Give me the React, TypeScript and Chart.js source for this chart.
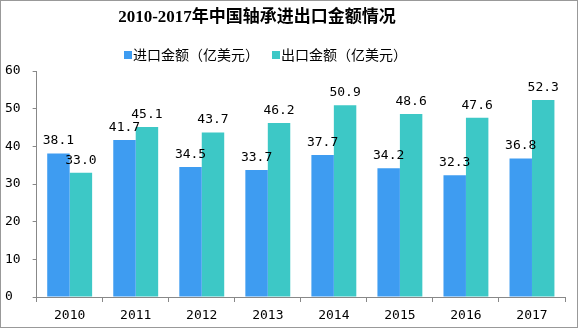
import React, { useEffect, useRef } from "react";
import { Chart, registerables } from "chart.js";

Chart.register(...registerables);

const categories = ["2010", "2011", "2012", "2013", "2014", "2015", "2016", "2017"];
const importValues = [38.1, 41.7, 34.5, 33.7, 37.7, 34.2, 32.3, 36.8];
const exportValues = [33.0, 45.1, 43.7, 46.2, 50.9, 48.6, 47.6, 52.3];
const seriesNames = ["进口金额（亿美元）", "出口金额（亿美元）"];
const titleText = "2010-2017年中国轴承进出口金额情况";

const BLUE = "#3e9cf1";
const TEAL = "#3dc8c6";
const MONO = "'DejaVu Sans Mono', 'Liberation Mono', monospace";
const CJK = "'Noto Sans CJK SC', sans-serif";

const labelPlugin = {
  id: "barLabels",
  afterDatasetsDraw(chart: any) {
    const ctx = chart.ctx;
    ctx.save();
    ctx.font = `13px ${MONO}`;
    ctx.fillStyle = "#000";
    ctx.textAlign = "center";
    ctx.textBaseline = "alphabetic";
    chart.data.datasets.forEach((ds: any, di: number) => {
      const meta = chart.getDatasetMeta(di);
      meta.data.forEach((bar: any, i: number) => {
        ctx.fillText(Number(ds.data[i]).toFixed(1), bar.x, bar.y - 9);
      });
    });
    ctx.restore();
  },
};

const headerPlugin = {
  id: "header",
  afterDraw(chart: any) {
    const ctx = chart.ctx;
    ctx.save();
    ctx.fillStyle = "#000";
    ctx.textBaseline = "middle";
    ctx.textAlign = "center";
    ctx.font = `bold 17px 'Liberation Serif', 'Noto Sans CJK SC', serif`;
    ctx.fillText(titleText, 256, 17);
    // legend
    ctx.textAlign = "left";
    ctx.font = `14px ${CJK}`;
    const colors = [BLUE, TEAL];
    const xs = [123, 271];
    seriesNames.forEach((name, i) => {
      ctx.fillStyle = colors[i];
      ctx.fillRect(xs[i], 50, 8, 8);
      ctx.fillStyle = "#000";
      ctx.fillText(name, xs[i] + 9, 54);
    });
    ctx.restore();
  },
};

export default function App() {
  const ref = useRef<HTMLCanvasElement | null>(null);
  useEffect(() => {
    document.body.style.margin = "0";
    const chart = new Chart(ref.current!, {
      type: "bar",
      data: {
        labels: categories,
        datasets: [
          { label: seriesNames[0], data: importValues, backgroundColor: BLUE, barPercentage: 1, categoryPercentage: 0.68 },
          { label: seriesNames[1], data: exportValues, backgroundColor: TEAL, barPercentage: 1, categoryPercentage: 0.68 },
        ],
      },
      options: {
        animation: false,
        responsive: true,
        maintainAspectRatio: false,
        layout: { padding: { left: 4, right: 12, top: 70, bottom: 0 } },
        plugins: {
          tooltip: { enabled: false },
          title: { display: false },
          legend: { display: false },
        },
        scales: {
          x: {
            afterFit(axis: any) {
              axis.height = 30;
            },
            grid: { display: true, drawOnChartArea: false, drawTicks: true, tickLength: 5, color: "#888", offset: true },
            border: { display: true, color: "#888" },
            ticks: { color: "#000", font: { size: 13, family: MONO }, padding: 6 },
          },
          y: {
            min: 0,
            max: 60,
            ticks: { stepSize: 10, color: "#000", font: { size: 13, family: MONO }, crossAlign: "far", padding: 6 },
            grid: { display: true, drawOnChartArea: false, drawTicks: true, tickLength: 4, color: "#888" },
            border: { display: true, color: "#888" },
          },
        },
      },
      plugins: [labelPlugin, headerPlugin],
    });
    return () => chart.destroy();
  }, []);
  return (
    <div style={{ width: 578, height: 328, boxSizing: "border-box", border: "1px solid #999", position: "relative", background: "#fff" }}>
      <canvas ref={ref} />
    </div>
  );
}
